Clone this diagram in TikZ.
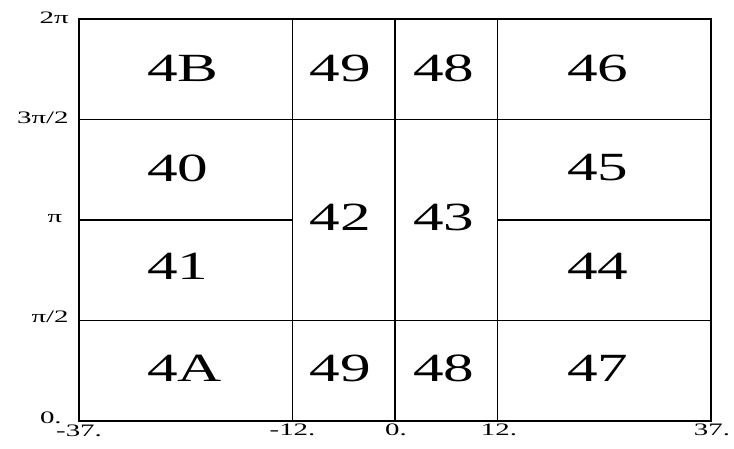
\documentclass[tikz,border=0pt]{standalone}
\usepackage{fontspec}
\setmainfont{Liberation Serif}
\begin{document}
\begin{tikzpicture}[x=1pt,y=-1pt,
  gridline/.style={line width=1.6pt,black},
  cell/.style={inner sep=0pt,anchor=west,xscale=1.53,font=\fontsize{40}{40}\selectfont},
  ticklab/.style={inner sep=0pt,xscale=1.65,font=\fontsize{17.5}{17.5}\selectfont}]
\useasboundingbox (0,0) rectangle (734,448);
% frame and lines
\draw[gridline] (79,19) rectangle (711,421);
\draw[gridline] (292.5,19) -- (292.5,421);
\draw[gridline] (395,19) -- (395,421);
\draw[gridline] (497.5,19) -- (497.5,421);
\draw[gridline] (79,119.5) -- (711,119.5);
\draw[gridline] (79,320.5) -- (711,320.5);
\draw[gridline] (79,220) -- (292.5,220);
\draw[gridline] (497.5,220) -- (711,220);
% cell labels
\node[cell] (c4B) at (147,68.3) {4B};
\node[cell] (c49t) at (309.5,68.3) {49};
\node[cell] (c48t) at (413,68.3) {48};
\node[cell] (c46) at (567,68.3) {46};
\node[cell] (c40) at (147,168) {40};
\node[cell] (c45) at (567,168) {45};
\node[cell] (c42) at (309.5,217) {42};
\node[cell] (c43) at (413,217) {43};
\node[cell] (c41) at (147,266) {41};
\node[cell] (c44) at (567,266) {44};
\node[cell] (c4A) at (147,368) {4A};
\node[cell] (c49b) at (309.5,368) {49};
\node[cell] (c48b) at (413,368) {48};
\node[cell] (c47) at (567,368) {47};
% y tick labels
\node[ticklab,anchor=east] (y4) at (69,18) {2π};
\node[ticklab,anchor=east] (y3) at (69,118) {3π/2};
\node[ticklab,anchor=east] (y2) at (62.5,218.5) {π};
\node[ticklab,anchor=east] (y1) at (69,316.5) {π/2};
\node[ticklab,anchor=east] (y0) at (62,417.5) {0.};
% x tick labels
\node[ticklab,anchor=north] (xm37) at (79,425) {-37.};
\node[ticklab,anchor=north] (xm12) at (292.5,424) {-12.};
\node[ticklab,anchor=north] (x0) at (396,424) {0.};
\node[ticklab,anchor=north] (x12) at (499,424) {12.};
\node[ticklab,anchor=north] (x37) at (712,424) {37.};
\end{tikzpicture}
\end{document}
